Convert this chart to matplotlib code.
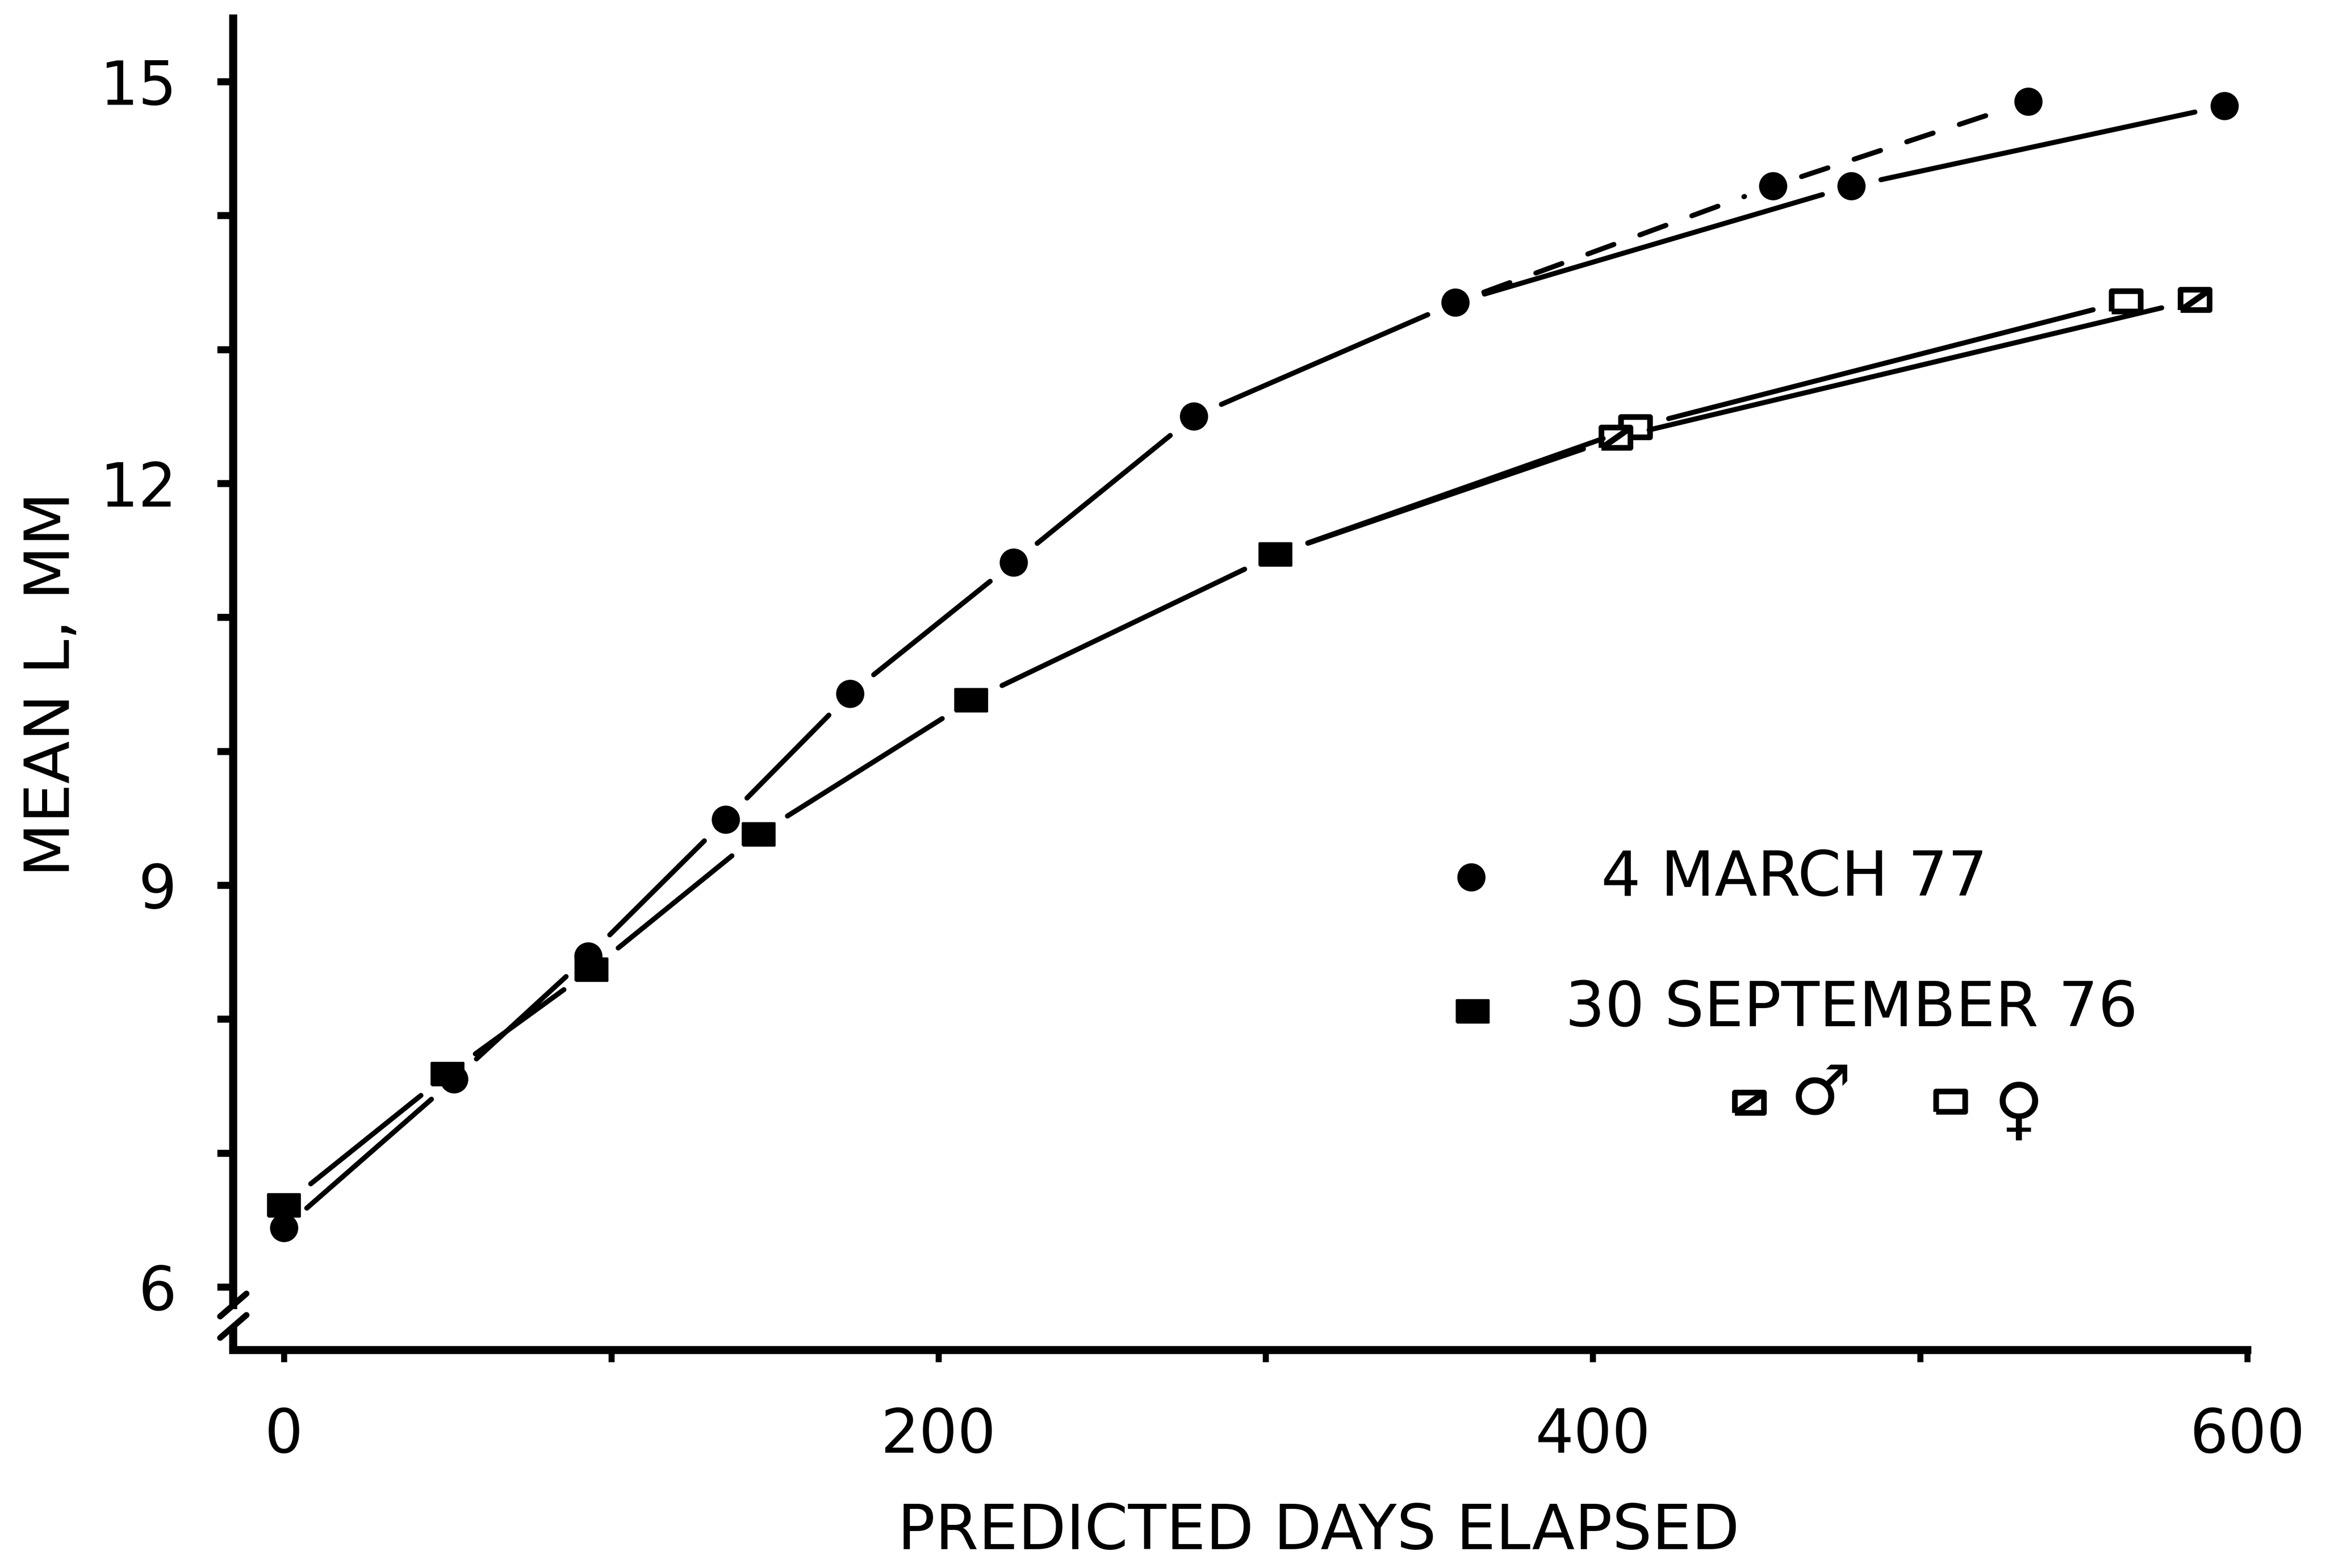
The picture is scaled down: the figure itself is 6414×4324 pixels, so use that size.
import matplotlib.pyplot as plt
from matplotlib.ticker import FixedLocator, MultipleLocator

plt.rcParams['font.family'] = 'DejaVu Sans'

# 4 March 77 cohort: shared path, then two branches after day 358
mar_days = [0, 52, 93, 135, 173, 223, 278, 358]
mar_len = [6.44, 7.55, 8.47, 9.49, 10.43, 11.41, 12.50, 13.35]
mar_dash_days = [455, 533]
mar_dash_len = [14.22, 14.85]
mar_solid_days = [479, 593]
mar_solid_len = [14.22, 14.82]

# 30 September 76 cohort: splits by sex after day 303
sep_days = [0, 50, 94, 145, 210, 303]
sep_len = [6.61, 7.59, 8.37, 9.38, 10.38, 11.47]
male_days = [407, 584]
male_len = [12.34, 13.37]
female_days = [413, 563]
female_len = [12.42, 13.36]

x_ticks = [0, 200, 400, 600]
y_ticks = [6, 9, 12, 15]

LW = 2.5
FS = 31
rect = [(-1, -0.7), (1, -0.7), (1, 0.7), (-1, 0.7), (-1, -0.7)]
slash = [(-1, -0.7), (1, 0.7)]

fig = plt.figure(figsize=(16.035, 10.81), dpi=400)
ax = fig.add_axes([0.1003, 0.1391, 0.8687, 0.849])
ax.set_xlim(-15.5, 602)
ax.set_ylim(5.53, 15.47)


def join(xs, ys, shrink, ls='-'):
    # connecting segments stop short of the symbols
    for x0, y0, x1, y1 in zip(xs[:-1], ys[:-1], xs[1:], ys[1:]):
        ax.annotate('', xy=(x1, y1), xytext=(x0, y0),
                    arrowprops=dict(arrowstyle='-', color='k', lw=LW,
                                    linestyle=ls, shrinkA=shrink,
                                    shrinkB=shrink))


join(mar_days, mar_len, 15)
join(mar_days[-1:] + mar_dash_days, mar_len[-1:] + mar_dash_len, 15,
     ls=(0, (5.5, 5.5)))
join(mar_days[-1:] + mar_solid_days, mar_len[-1:] + mar_solid_len, 15)
join(sep_days, sep_len, 17)
join(sep_days[-1:] + male_days, sep_len[-1:] + male_len, 17)
join(sep_days[-1:] + female_days, sep_len[-1:] + female_len, 17)

mk_circle = dict(ls='none', marker='o', ms=13, color='k')
mk_square = dict(ls='none', marker=rect, ms=16, color='k', mew=1)
mk_open = dict(ls='none', marker=rect, ms=14.5, mfc='white', mec='k',
               mew=2.8)
mk_slash = dict(ls='none', marker=slash, ms=14.5, color='k', mew=3)

ax.plot(mar_days + mar_dash_days + mar_solid_days,
        mar_len + mar_dash_len + mar_solid_len, **mk_circle)
ax.plot(sep_days, sep_len, **mk_square)
ax.plot(female_days, female_len, **mk_open)
ax.plot(male_days, male_len, **mk_open)
ax.plot(male_days, male_len, **mk_slash)

# key
tr = ax.transAxes
ax.plot([0.6127], [0.3551], transform=tr, clip_on=False, **mk_circle)
ax.text(0.677, 0.3412, '4 MARCH 77', transform=tr, fontsize=FS,
        ha='left', va='baseline')
ax.plot([0.6134], [0.2543], transform=tr, clip_on=False, **mk_square)
ax.text(0.6592, 0.2432, '30 SEPTEMBER 76', transform=tr, fontsize=FS,
        ha='left', va='baseline')
ax.plot([0.7503], [0.1857], transform=tr, clip_on=False, **mk_open)
ax.plot([0.7503], [0.1857], transform=tr, clip_on=False, **mk_slash)
ax.text(0.7857, 0.1914, '\u2642', transform=tr, fontsize=34,
        ha='center', va='center')
ax.plot([0.850], [0.1865], transform=tr, clip_on=False, **mk_open)
ax.text(0.8837, 0.1783, '\u2640', transform=tr, fontsize=34,
        ha='center', va='center')

# axes: left and bottom only, with a break near the foot of the y axis
for s in ['top', 'right']:
    ax.spines[s].set_visible(False)
for s in ['left', 'bottom']:
    ax.spines[s].set_linewidth(4)
ax.spines['left'].set_bounds(5.865, 15.47)
ax.spines['bottom'].set_bounds(-15.5, 600)
brk = ax.get_yaxis_transform()
ax.plot([0, 0], [5.53, 5.705], transform=brk, color='k', lw=4,
        clip_on=False, solid_capstyle='butt')
for y0 in [5.78, 5.62]:
    ax.plot([-0.0065, 0.0065], [y0, y0 + 0.17], transform=brk, color='k',
            lw=3, clip_on=False, solid_capstyle='round')

ax.xaxis.set_major_locator(FixedLocator(x_ticks))
ax.xaxis.set_minor_locator(MultipleLocator(100))
ax.yaxis.set_major_locator(FixedLocator(y_ticks))
ax.yaxis.set_minor_locator(MultipleLocator(1))
ax.tick_params(axis='x', which='both', direction='out', length=6, width=3,
               pad=22, labelsize=30)
ax.tick_params(axis='y', which='both', direction='out', length=8, width=3.5,
               pad=20, labelsize=30)

ax.set_xlabel('PREDICTED DAYS ELAPSED', fontsize=FS)
ax.xaxis.set_label_coords(0.537, -0.137)
ax.xaxis.label.set_va('center')
ax.set_ylabel('MEAN L, MM', fontsize=FS)
ax.yaxis.set_label_coords(-0.0897, 0.5)
ax.yaxis.label.set_va('center')

fig.savefig('out.png', dpi=400)
